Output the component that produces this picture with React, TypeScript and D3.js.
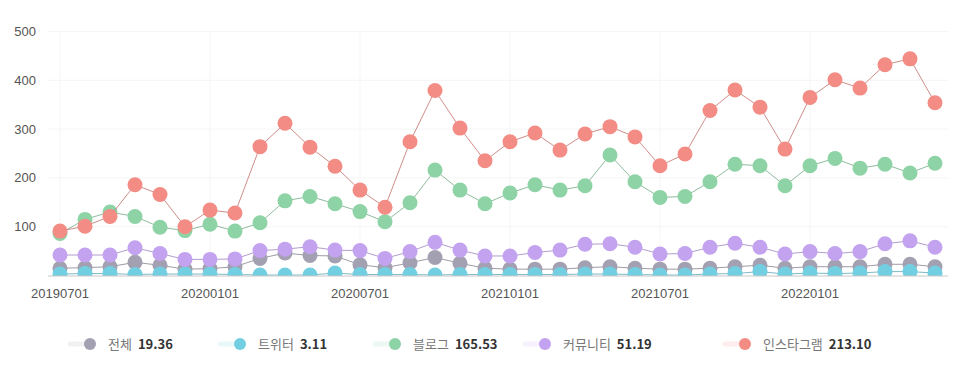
import React, { useRef, useEffect } from "react";
import * as d3 from "d3";

// Months (category axis)
const months = [
  "20190701", "20190801", "20190901", "20191001", "20191101", "20191201",
  "20200101", "20200201", "20200301", "20200401", "20200501", "20200601",
  "20200701", "20200801", "20200901", "20201001", "20201101", "20201201",
  "20210101", "20210201", "20210301", "20210401", "20210501", "20210601",
  "20210701", "20210801", "20210901", "20211001", "20211101", "20211201",
  "20220101", "20220201", "20220301", "20220401", "20220501", "20220601",
];

const tickLabels = ["20190701", "20200101", "20200701", "20210101", "20210701", "20220101"];
const yTicks = [100, 200, 300, 400, 500];

// Series values
const totalValues = [15, 16, 18, 27, 21, 13, 14, 18, 35, 46, 41, 40, 22, 16, 26, 37, 25, 15, 13, 13, 13, 16, 18, 15, 13, 13, 15, 18, 21, 15, 18, 18, 18, 23, 23, 18];
const twitterValues = [3, 4, 4, 2, 3, 3, 3, 2, 1, 1, 1, 5, 2, 2, 2, 1, 2, 2, 2, 2, 2, 3, 3, 2, 1, 1, 3, 4, 8, 3, 5, 4, 5, 8, 8, 5];
const blogValues = [86, 115, 130, 121, 99, 92, 105, 91, 108, 153, 162, 147, 131, 110, 149, 216, 175, 147, 169, 186, 175, 184, 247, 192, 160, 162, 192, 228, 225, 184, 225, 240, 220, 228, 210, 230];
const communityValues = [42, 42, 42, 57, 45, 33, 33, 34, 51, 54, 59, 52, 51, 35, 49, 68, 52, 40, 40, 47, 52, 64, 65, 58, 44, 45, 58, 66, 58, 44, 49, 45, 49, 65, 71, 58];
const instaValues = [91, 101, 121, 186, 166, 100, 134, 128, 264, 312, 263, 224, 175, 140, 274, 379, 302, 235, 274, 292, 257, 290, 305, 284, 225, 249, 338, 380, 345, 259, 365, 401, 384, 432, 444, 354];

const seriesNames = ["전체", "트위터", "블로그", "커뮤니티", "인스타그램"];
const legendValues = ["19.36", "3.11", "165.53", "51.19", "213.10"];
const seriesColors = ["#a3a1b1", "#72cfe2", "#8dd3a5", "#c3a2ef", "#f28c84"];
const seriesValues = [totalValues, twitterValues, blogValues, communityValues, instaValues];

const LineChart = () => {
  const svgRef = useRef(null);

  useEffect(() => {
    const width = 959;
    const height = 371;

    const svg = d3.select(svgRef.current).attr("width", width).attr("height", height);
    svg.selectAll("*").remove();

    // Scales
    const xScale = d3.scalePoint().domain(months).range([60, 935]);
    const yScale = d3.scaleLinear().domain([0, 500]).range([275.5, 31.5]);

    const left = 48;
    const right = 948;

    // clip everything below the zero line
    svg
      .append("defs")
      .append("clipPath")
      .attr("id", "plot-clip")
      .append("rect")
      .attr("x", 0)
      .attr("y", 0)
      .attr("width", width)
      .attr("height", yScale(0) + 0.5);

    // Grid
    const grid = svg.append("g");
    grid
      .selectAll("line.h")
      .data(yTicks)
      .join("line")
      .attr("x1", left)
      .attr("x2", right)
      .attr("y1", (d) => yScale(d))
      .attr("y2", (d) => yScale(d))
      .attr("stroke", "#f5f5f5");
    grid
      .selectAll("line.v")
      .data(tickLabels)
      .join("line")
      .attr("x1", (d) => xScale(d))
      .attr("x2", (d) => xScale(d))
      .attr("y1", yScale(500))
      .attr("y2", yScale(0))
      .attr("stroke", "#f5f5f5");

    // Y axis labels
    svg
      .append("g")
      .selectAll("text")
      .data(yTicks)
      .join("text")
      .attr("x", 36)
      .attr("y", (d) => yScale(d) + 4.5)
      .attr("text-anchor", "end")
      .attr("font-family", "'Liberation Sans', Arial, sans-serif")
      .attr("font-size", 13)
      .attr("fill", "#555")
      .text((d) => d);

    // X axis labels
    svg
      .append("g")
      .selectAll("text")
      .data(tickLabels)
      .join("text")
      .attr("x", (d) => xScale(d))
      .attr("y", 298)
      .attr("text-anchor", "middle")
      .attr("font-family", "'Liberation Sans', Arial, sans-serif")
      .attr("font-size", 13)
      .attr("fill", "#555")
      .text((d) => d);

    // Series
    const lineGenerator = d3
      .line()
      .x((d, i) => xScale(months[i]))
      .y((d) => yScale(d));

    const plot = svg.append("g").attr("clip-path", "url(#plot-clip)");

    seriesValues.forEach((values, s) => {
      const g = plot.append("g");
      g.append("path")
        .datum(values)
        .attr("d", lineGenerator)
        .attr("fill", "none")
        .attr("stroke", d3.color(seriesColors[s]).darker(0.6))
        .attr("stroke-opacity", 0.8)
        .attr("stroke-width", 1);
      g.selectAll("circle")
        .data(values)
        .join("circle")
        .attr("cx", (d, i) => xScale(months[i]))
        .attr("cy", (d) => yScale(d))
        .attr("r", 7.5)
        .attr("fill", seriesColors[s]);
    });

    // Bottom axis line
    svg
      .append("line")
      .attr("x1", left)
      .attr("x2", right)
      .attr("y1", yScale(0) + 0.5)
      .attr("y2", yScale(0) + 0.5)
      .attr("stroke", "#c8c8c8");

    // Legend
    const legendX = [90, 240, 395, 545, 745];
    const legend = svg
      .append("g")
      .selectAll("g")
      .data(seriesNames)
      .join("g")
      .attr("transform", (d, i) => `translate(${legendX[i]}, 344)`);

    legend
      .append("line")
      .attr("x1", -20)
      .attr("x2", 0)
      .attr("stroke", (d, i) => seriesColors[i])
      .attr("stroke-opacity", 0.15)
      .attr("stroke-width", 5)
      .attr("stroke-linecap", "round");
    legend
      .append("circle")
      .attr("r", 6)
      .attr("fill", (d, i) => seriesColors[i]);
    const label = legend
      .append("text")
      .attr("x", 18)
      .attr("y", 5)
      .attr("font-family", "'Noto Sans CJK KR', sans-serif")
      .attr("font-size", 13);
    label.append("tspan").attr("fill", "#777").text((d) => d);
    label
      .append("tspan")
      .attr("dx", 6)
      .attr("fill", "#333")
      .attr("font-weight", "bold")
      .text((d, i) => legendValues[i]);
  }, []);

  return (
    <div style={{ position: "absolute", left: 0, top: 0 }}>
      <svg ref={svgRef} style={{ display: "block", background: "#fff" }} />
    </div>
  );
};

const App = () => {
  return <LineChart />;
};

export default App;
